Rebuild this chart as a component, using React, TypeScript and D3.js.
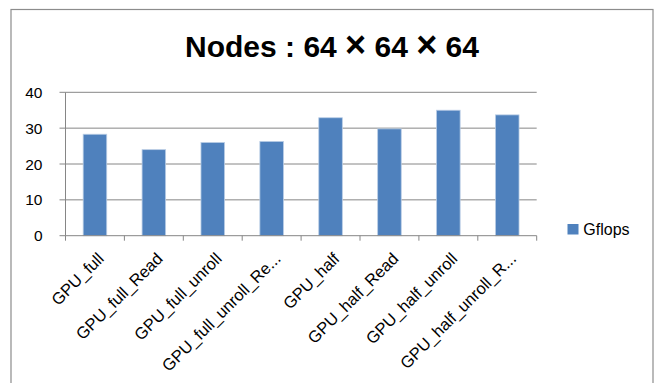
import React from "react";
import * as d3 from "d3";

const categories = [
  "GPU_full",
  "GPU_full_Read",
  "GPU_full_unroll",
  "GPU_full_unroll_Re...",
  "GPU_half",
  "GPU_half_Read",
  "GPU_half_unroll",
  "GPU_half_unroll_R...",
];
const gflops = [28.3, 24.0, 26.0, 26.3, 32.9, 29.8, 35.0, 33.7];
const yTicks = [0, 10, 20, 30, 40];
const seriesName = "Gflops";
const titleParts = ["Nodes : 64 ", "×", " 64 ", "×", " 64"];

const W = 659;
const H = 383;
const FONT = "'Liberation Sans', Arial, sans-serif";

export default function App() {
  const left = 65.5;
  const right = 536.7;
  const top = 92.3;
  const bottom = 235.7;
  const x = d3.scaleBand<string>().domain(categories).range([left, right]).paddingInner(0.6).paddingOuter(0.3);
  const xOuter = d3.scaleBand<string>().domain(categories).range([left, right]);
  const y = d3.scaleLinear().domain([0, 40]).range([bottom, top]);
  const grid = "#868686";

  return (
    <svg width={W} height={H} style={{ position: "absolute", left: 0, top: 0, background: "#fff" }}>
      <rect x={11} y={9.5} width={642} height={380} fill="#fff" stroke="#8c8c8c" strokeWidth={1.2} />
      <text x={332} y={57} textAnchor="middle" fontFamily={FONT} fontWeight="bold" fontSize={30} fill="#000">
        {titleParts.map((p, i) =>
          p === "×" ? (
            <tspan key={i} fontSize={36}>{p}</tspan>
          ) : (
            <tspan key={i}>{p}</tspan>
          )
        )}
      </text>
      {yTicks.map((t) => (
        <g key={t}>
          {t > 0 && <line x1={left} x2={right} y1={y(t)} y2={y(t)} stroke={grid} strokeWidth={1} />}
          <line x1={left - 6} x2={left} y1={y(t)} y2={y(t)} stroke={grid} strokeWidth={1} />
          <text x={42.5} y={y(t) + 5.5} textAnchor="end" fontFamily={FONT} fontSize={15.5} fill="#000">
            {t}
          </text>
        </g>
      ))}
      {gflops.map((v, i) => (
        <rect
          key={i}
          x={x(categories[i])!}
          y={y(v)}
          width={x.bandwidth()}
          height={bottom - y(v)}
          fill="#4F81BD"
          stroke="#B9CDE5"
          strokeWidth={0.8}
        />
      ))}
      <line x1={left} x2={left} y1={top} y2={bottom} stroke={grid} strokeWidth={1} />
      <line x1={left} x2={right} y1={bottom} y2={bottom} stroke={grid} strokeWidth={1} />
      {categories.map((c, i) => (
        <line key={"t" + i} x1={xOuter(c)!} x2={xOuter(c)!} y1={bottom} y2={bottom + 5} stroke={grid} />
      ))}
      <line x1={right} x2={right} y1={bottom} y2={bottom + 5} stroke={grid} />
      {categories.map((c) => {
        const cx = xOuter(c)! + xOuter.bandwidth() / 2;
        return (
          <text
            key={"l" + c}
            transform={`translate(${cx + 10},${bottom + 24}) rotate(-45)`}
            textAnchor="end"
            fontFamily={FONT}
            fontSize={16.5}
            fill="#000"
          >
            {c}
          </text>
        );
      })}
      <rect x={567.5} y={224} width={11} height={10.5} fill="#4F81BD" />
      <text x={583.3} y={235} fontFamily={FONT} fontSize={16} fill="#000">
        {seriesName}
      </text>
    </svg>
  );
}
